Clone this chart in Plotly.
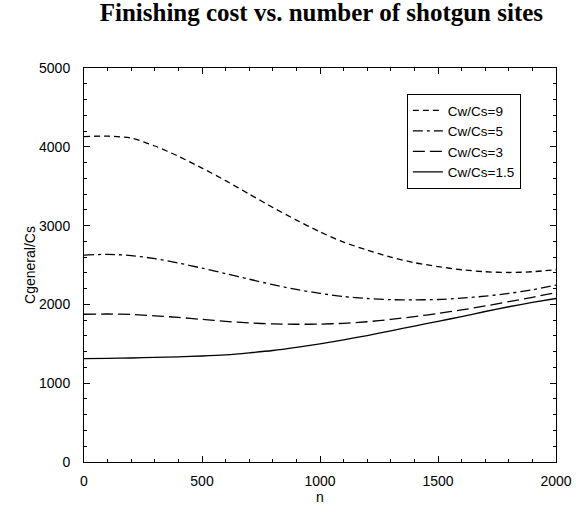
import plotly.graph_objects as go

n = [0, 100, 200, 300, 400, 500, 600, 700, 800, 900, 1000,
     1100, 1200, 1300, 1400, 1500, 1600, 1700, 1800, 1900, 2000]

cw9 = [4130, 4135, 4110, 4010, 3880, 3730, 3570, 3400, 3230, 3070, 2920,
       2790, 2690, 2600, 2530, 2480, 2440, 2415, 2405, 2415, 2440]
cw5 = [2625, 2635, 2620, 2580, 2525, 2460, 2390, 2320, 2250, 2190, 2140,
       2100, 2075, 2060, 2058, 2062, 2080, 2105, 2140, 2185, 2245]
cw3 = [1875, 1878, 1872, 1855, 1835, 1810, 1785, 1765, 1752, 1748, 1750,
       1760, 1780, 1810, 1845, 1885, 1930, 1980, 2035, 2090, 2150]
cw15 = [1312, 1315, 1320, 1327, 1335, 1345, 1360, 1385, 1415, 1455, 1500,
        1550, 1605, 1665, 1725, 1785, 1845, 1910, 1970, 2025, 2075]

names = ["Cw/Cs=9", "Cw/Cs=5", "Cw/Cs=3", "Cw/Cs=1.5"]
series = [cw9, cw5, cw3, cw15]
dashes = ["6px,4px", "10px,4px,3px,4px", "12px,5px", "solid"]

fig = go.Figure()
for name, ys, d in zip(names, series, dashes):
    fig.add_trace(go.Scatter(
        x=n, y=ys, mode="lines", name=name,
        line=dict(color="black", width=1.3, dash=d, shape="spline", smoothing=0.8),
    ))

axis_common = dict(
    showline=True, linecolor="black", linewidth=1, mirror="ticks",
    ticks="inside", ticklen=6, tickcolor="black", tickwidth=1,
    showgrid=False, zeroline=False, automargin=False,
    tickfont=dict(family="Liberation Sans, Arial", size=14, color="black"),
    title_font=dict(family="Liberation Sans, Arial", size=14, color="black"),
)

fig.update_xaxes(
    range=[0, 2000], tickmode="linear", tick0=0, dtick=500,
    minor=dict(dtick=100, ticklen=3, ticks="inside", tickcolor="black"),
    title_text="n", title_standoff=1, ticklabelstandoff=6,
    **axis_common,
)
fig.update_yaxes(
    range=[0, 5000], tickmode="linear", tick0=0, dtick=1000,
    minor=dict(dtick=200, ticklen=3, ticks="inside", tickcolor="black"),
    title_text="Cgeneral/Cs", title_standoff=0, ticklabelstandoff=10,
    **axis_common,
)

fig.update_layout(
    width=576, height=512,
    margin=dict(l=84, r=20, t=68, b=50),
    paper_bgcolor="white", plot_bgcolor="white",
    title=dict(
        text="<b>Finishing cost vs. number of shotgun sites</b>",
        font=dict(family="Liberation Serif, Times New Roman", size=25, color="black"),
        x=0.558, xanchor="center", y=0.976, yanchor="middle",
    ),
    legend=dict(
        x=0.684, y=0.934, xanchor="left", yanchor="top",
        bordercolor="black", borderwidth=1, bgcolor="white",
        font=dict(family="Liberation Sans, Arial", size=13.5, color="black"),
        tracegroupgap=0,
    ),
    showlegend=True,
)

fig.write_html("out.html")
